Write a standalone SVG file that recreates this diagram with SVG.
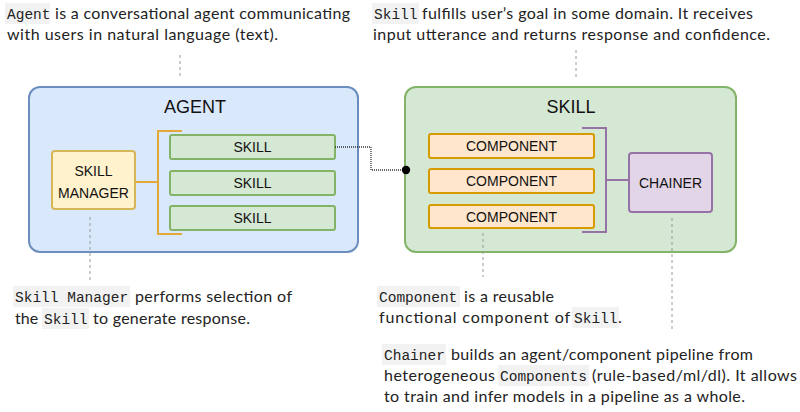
<svg xmlns="http://www.w3.org/2000/svg" width="800" height="412" viewBox="0 0 800 412">
<style>
.t{font-family:"Lato","Liberation Sans",sans-serif;font-size:16px;fill:#222}
.m{font-family:"Liberation Mono","DejaVu Sans Mono",monospace;font-size:14.5px;fill:#222}
.cb{fill:#f2f2f2}
.b{font-family:"Liberation Sans",Arial,sans-serif;font-size:14px;fill:#111;text-anchor:middle}
.h{font-family:"Liberation Sans",Arial,sans-serif;font-size:18px;fill:#111;text-anchor:middle}
.dash{stroke:#9a9a9a;stroke-width:1;stroke-dasharray:3 3;fill:none}
</style>
<rect width="800" height="412" fill="#ffffff"/>
<!-- notes -->
<g id="note-agent">
<rect class="cb" x="5" y="3" width="45" height="21"/>
<text class="m" x="7" y="19">Agent</text>
<text class="t" x="55" y="19" textLength="295">is a conversational agent communicating</text>
<text class="t" x="7" y="40" textLength="271">with users in natural language (text).</text>
</g>
<g id="note-skill">
<rect class="cb" x="372" y="3" width="47" height="21"/>
<text class="m" x="374" y="19">Skill</text>
<text class="t" x="422" y="19" textLength="331">fulfills user’s goal in some domain. It receives</text>
<text class="t" x="373" y="40" textLength="397">input utterance and returns response and confidence.</text>
</g>
<g id="note-manager">
<rect class="cb" x="13" y="286" width="117" height="21"/>
<text class="m" x="15" y="302">Skill Manager</text>
<text class="t" x="135" y="302" textLength="157">performs selection of</text>
<text class="t" x="15" y="324">the</text>
<rect class="cb" x="42" y="308" width="47" height="21"/>
<text class="m" x="44" y="324">Skill</text>
<text class="t" x="93" y="324" textLength="157">to generate response.</text>
</g>
<g id="note-component">
<rect class="cb" x="377" y="286" width="83" height="21"/>
<text class="m" x="379" y="302">Component</text>
<text class="t" x="464" y="302" textLength="90">is a reusable</text>
<text class="t" x="379" y="323" textLength="191">functional component of</text>
<rect class="cb" x="572" y="307" width="47" height="21"/>
<text class="m" x="574" y="323">Skill</text>
<text class="t" x="618" y="323">.</text>
</g>
<g id="note-chainer">
<rect class="cb" x="382" y="344" width="64" height="21"/>
<text class="m" x="384" y="360">Chainer</text>
<text class="t" x="451" y="360" textLength="302">builds an agent/component pipeline from</text>
<text class="t" x="384" y="381" textLength="111">heterogeneous</text>
<rect class="cb" x="498" y="365" width="91" height="21"/>
<text class="m" x="500" y="381">Components</text>
<text class="t" x="592" y="381" textLength="205">(rule-based/ml/dl). It allows</text>
<text class="t" x="384" y="402" textLength="361">to train and infer models in a pipeline as a whole.</text>
</g>
<!-- containers -->
<g id="agent">
<rect x="29" y="87" width="329" height="165" rx="11" fill="#dae8fc" stroke="#6c8ebf" stroke-width="2"/>
<text class="h" x="195" y="113">AGENT</text>
</g>
<g id="skill-container">
<rect x="405" y="87" width="331" height="165" rx="11" fill="#d5e8d4" stroke="#82b366" stroke-width="2"/>
<text class="h" x="571" y="113">SKILL</text>
</g>
<g id="skill-manager">
<rect x="52" y="151" width="83" height="58" rx="3" fill="#fff2cc" stroke="#d6b656" stroke-width="2"/>
<text class="b" x="93.5" y="176">SKILL</text>
<text class="b" x="93.5" y="198">MANAGER</text>
</g>
<g id="skill1">
<rect x="170" y="135" width="165" height="24" rx="2" fill="#d5e8d4" stroke="#82b366" stroke-width="2"/>
<text class="b" x="252.5" y="152">SKILL</text>
</g>
<g id="skill2">
<rect x="170" y="171" width="165" height="24" rx="2" fill="#d5e8d4" stroke="#82b366" stroke-width="2"/>
<text class="b" x="252.5" y="188">SKILL</text>
</g>
<g id="skill3">
<rect x="170" y="206" width="165" height="24" rx="2" fill="#d5e8d4" stroke="#82b366" stroke-width="2"/>
<text class="b" x="252.5" y="223">SKILL</text>
</g>
<g id="component1">
<rect x="429" y="134" width="165" height="24" rx="2" fill="#ffe6cc" stroke="#d79b00" stroke-width="2"/>
<text class="b" x="511.5" y="151">COMPONENT</text>
</g>
<g id="component2">
<rect x="429" y="169" width="165" height="24" rx="2" fill="#ffe6cc" stroke="#d79b00" stroke-width="2"/>
<text class="b" x="511.5" y="186">COMPONENT</text>
</g>
<g id="component3">
<rect x="429" y="205" width="165" height="23" rx="2" fill="#ffe6cc" stroke="#d79b00" stroke-width="2"/>
<text class="b" x="511.5" y="221.5">COMPONENT</text>
</g>
<g id="chainer">
<rect x="629" y="153" width="83" height="59" rx="3" fill="#e1d5e7" stroke="#9673a6" stroke-width="2"/>
<text class="b" x="670.5" y="188">CHAINER</text>
</g>
<!-- connectors -->
<g id="connectors">
<path d="M182 131H158V234H182M135 182H158" fill="none" stroke="#e0a93a" stroke-width="2"/>
<path d="M582 128H606V232H582M606 180H629" fill="none" stroke="#9673a6" stroke-width="2"/>
<path d="M335 147H371V170H406" fill="none" stroke="#333" stroke-width="1.3" stroke-dasharray="1 1"/>
<circle cx="406" cy="170" r="4.2" fill="#000"/>
<path class="dash" d="M180 55V78"/>
<path class="dash" d="M576 50V78"/>
<path class="dash" d="M90 217V283"/>
<path class="dash" d="M483 233V277"/>
<path class="dash" d="M672 218V332"/>
</g>
</svg>
